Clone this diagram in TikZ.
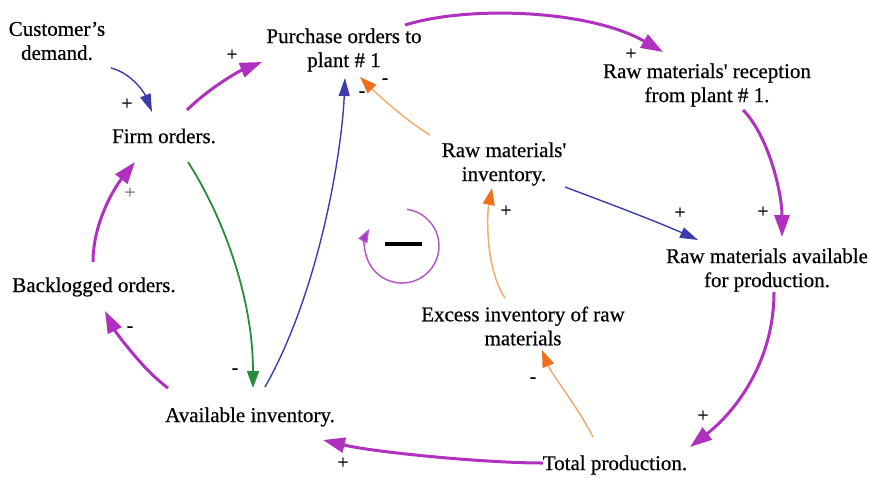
\documentclass[tikz,border=0pt]{standalone}
\usepackage{fontspec}
\setmainfont{Liberation Serif}[FakeBold=0.5]
\newfontfamily\signfont{Liberation Serif}[FakeBold=1.2]
\usetikzlibrary{arrows.meta,calc}

\definecolor{cmag}{RGB}{176,48,192}
\definecolor{cloop}{RGB}{180,90,200}
\definecolor{cblue}{RGB}{60,60,172}
\definecolor{cgreen}{RGB}{40,140,60}
\definecolor{corange}{RGB}{245,172,110}
\definecolor{ctip}{RGB}{240,110,30}
\definecolor{cgrey}{RGB}{120,120,120}

\tikzset{
  var/.style={align=center, inner sep=0pt, font=\fontsize{21}{24}\selectfont},
  sgn/.style={inner sep=0pt, font=\fontsize{19}{19}\selectfont\signfont},
  magarrow/.style={draw=cmag, line width=3pt,
    -{Triangle[length=22pt,width=15pt,fill=cmag]}},
  bluearrow/.style={draw=cblue, line width=1.4pt,
    -{Triangle[length=18pt,width=11pt,fill=cblue]}},
  greenarrow/.style={draw=cgreen, line width=1.8pt,
    -{Triangle[length=17pt,width=12pt,fill=cgreen]}},
  orangearrow/.style={draw=corange, line width=1.5pt,
    -{Triangle[length=17pt,width=12pt,color=ctip,fill=ctip]}},
}

\begin{document}
\begin{tikzpicture}[x=1pt,y=-1pt]
\useasboundingbox (0,0) rectangle (870,477);

% variables
\node[var] (cust)   at (57,41)   {Customer's\\demand.};
\node[var] (firm)   at (164,136) {Firm orders.};
\node[var] (purch)  at (344,50)  {Purchase orders to\\plant \# 1};
\node[var] (recep)  at (707,85)  {Raw materials\textquotesingle{} reception\\from plant \# 1.};
\node[var] (rminv)  at (504,164) {Raw materials\textquotesingle\\inventory.};
\node[var] (rmav)   at (767,270) {Raw materials available\\for production.};
\node[var] (back)   at (94,287)  {Backlogged orders.};
\node[var] (excess) at (523,326) {Excess inventory of raw\\materials};
\node[var] (avail)  at (250,417) {Available inventory.};
\node[var] (total)  at (615,465) {Total production.};

% causal links
\draw[bluearrow] ($(cust)+(54,27)$) .. controls +(20,5) and +(-8,-20) .. ($(firm)+(-12,-24)$);
\draw[magarrow] ($(firm)+(23,-26)$) .. controls +(20,-20) and +(-25,10) .. ($(purch)+(-82,12)$);
\draw[magarrow] ($(purch)+(61,-25)$) .. controls +(65,-20) and +(-73,-42) .. ($(recep)+(-44,-33)$);
\draw[magarrow] ($(recep)+(36,25)$) .. controls +(25,25) and +(0,-45) .. ($(rmav)+(15,-33)$);
\draw[bluearrow] ($(rminv)+(61,23)$) .. controls +(40,15) and +(-40,-18) .. ($(rmav)+(-69,-30)$);
\draw[magarrow] ($(rmav)+(7,22)$) .. controls +(0,70) and +(45,-35) .. ($(total)+(75,-18)$);
\draw[magarrow] ($(total)+(-72,-2)$) .. controls +(-60,0) and +(50,12) .. ($(avail)+(73,23)$);
\draw[orangearrow] ($(total)+(-22,-28)$) .. controls +(-15,-30) and +(10,25) .. ($(excess)+(19,24)$);
\draw[orangearrow] ($(excess)+(-18,-28)$) .. controls +(-20,-30) and +(-5,25) .. ($(rminv)+(-12,24)$);
\draw[orangearrow] ($(rminv)+(-74,-29)$) .. controls +(-25,-15) and +(15,15) .. ($(purch)+(16,27)$);
\draw[bluearrow] ($(avail)+(15,-30)$) .. controls +(55,-97) and +(-3,72) .. ($(purch)+(1,28)$);
\draw[greenarrow] ($(firm)+(24,26)$) .. controls +(37,58) and +(0,-88) .. ($(avail)+(3,-29)$);
\draw[magarrow] ($(avail)+(-82,-29)$) .. controls +(-25,-18) and +(10,20) .. ($(back)+(11,24)$);
\draw[magarrow] ($(back)+(-1,-25)$) .. controls +(0,-40) and +(-20,25) .. ($(firm)+(-29,26)$);

% polarity signs
\node[sgn] (s1)  at (127,104) {+};
\node[sgn] (s2)  at (232,55)  {+};
\node[sgn] (s3)  at (631,54)  {+};
\node[sgn] (s4)  at (763,212) {+};
\node[sgn] (s5)  at (680,213) {+};
\node[sgn] (s6)  at (703,416) {+};
\node[sgn] (s7)  at (343,463) {+};
\node[sgn] (s8)  at (533,380) {-};
\node[sgn] (s9)  at (506,211) {+};
\node[sgn] (s10) at (385,81)  {-};
\node[sgn] (s11) at (362,94)  {-};
\node[sgn] (s12) at (235,371) {-};
\node[sgn] (s13) at (130,329) {-};
\node[sgn,text=cgrey] (s14) at (130,193) {+};

% loop polarity marker
\coordinate (loopc) at (402,246);
\draw[draw=cloop, line width=1.5pt, -{Triangle[length=14pt,width=10pt,fill=cmag]}]
  ($(loopc)+(5.1,-36.6)$) arc[start angle=-82, end angle=208, radius=37];
\draw[line width=3.5pt] ($(loopc)+(-17,-2)$) -- ($(loopc)+(20,-2)$);
\end{tikzpicture}
\end{document}
